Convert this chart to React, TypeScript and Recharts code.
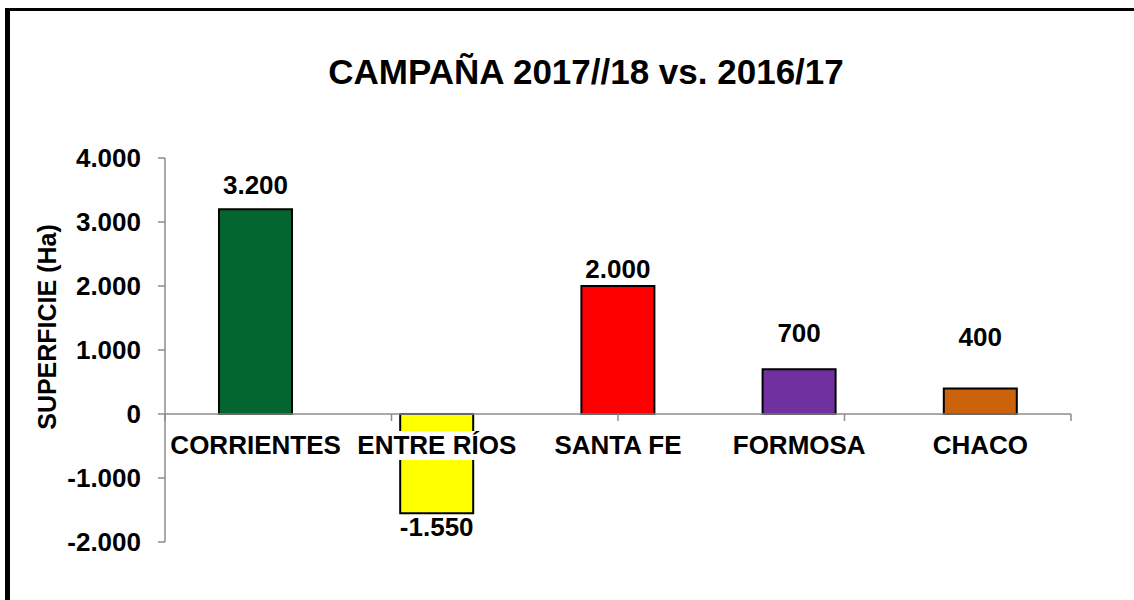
import React from 'react';
import {
  BarChart,
  Bar,
  XAxis,
  YAxis,
  Cell,
  LabelList,
  ReferenceLine,
} from 'recharts';

const provinces = ['CORRIENTES', 'ENTRE RÍOS', 'SANTA FE', 'FORMOSA', 'CHACO'];
const superficie = [3200, -1550, 2000, 700, 400];
const yTicks = [-2000, -1000, 0, 1000, 2000, 3000, 4000];
const edgeTicks = [0, 1, 2, 3, 4, 5];

const barColors = ['#03662F', '#FFFF00', '#FF0000', '#7030A0', '#CC620C'];
// distance from bar end to label centre, per bar (labels were hand-placed in the original)
const labelGaps = [24, 14, 17, 36, 51];

const data = provinces.map((name, i) => ({ name, value: superficie[i] }));

const W = 1134;
const H = 600;
const MARGIN = { top: 158, right: 63, bottom: 56, left: 0 };
const Y_MIN = -2000;
const Y_MAX = 4000;
const PLOT_H = H - MARGIN.top - MARGIN.bottom - 2;
const ZERO_Y = MARGIN.top + (PLOT_H * Y_MAX) / (Y_MAX - Y_MIN);

const FONT = '"Liberation Sans", Arial, sans-serif';
const AXIS_GRAY = '#8C8C8C';

const fmt = (v: number) => {
  const s = Math.abs(v).toString().replace(/\B(?=(\d{3})+(?!\d))/g, '.');
  return v < 0 ? '-' + s : s;
};

function CategoryTick(props: any) {
  const { x, payload } = props;
  return (
    <g>
      <rect x={x - 78} y={ZERO_Y + 17} width={156} height={29} fill="#fff" />
      <text
        x={x}
        y={ZERO_Y + 40}
        textAnchor="middle"
        fontFamily={FONT}
        fontWeight="bold"
        fontSize={26}
        fill="#000"
      >
        {payload.value}
      </text>
    </g>
  );
}

function EdgeTick(props: any) {
  const { x } = props;
  return <line x1={x} x2={x} y1={ZERO_Y} y2={ZERO_Y + 7} stroke={AXIS_GRAY} strokeWidth={1.5} />;
}

function ValueLabel(props: any) {
  const { x, y, width, height, value, index } = props;
  const gap = labelGaps[index] ?? 15;
  const top = Math.min(y, y + height);
  const bottom = Math.max(y, y + height);
  const cy = value < 0 ? bottom + gap : top - gap;
  return (
    <text
      x={x + width / 2}
      y={cy}
      textAnchor="middle"
      dominantBaseline="central"
      fontFamily={FONT}
      fontWeight="bold"
      fontSize={26}
      fill="#000"
    >
      {fmt(value)}
    </text>
  );
}

export default function App() {
  return (
    <div
      style={{
        position: 'absolute',
        left: 0,
        top: 0,
        width: W,
        height: H,
        background: '#fff',
        overflow: 'hidden',
      }}
    >
      <div
        style={{
          position: 'absolute',
          left: 5,
          top: 8,
          width: W + 100,
          height: H + 100,
          borderLeft: '5px solid #000',
          borderTop: '3px solid #000',
        }}
      />
      <div
        style={{
          position: 'absolute',
          left: 0,
          top: 52,
          width: 1172,
          textAlign: 'center',
          fontFamily: FONT,
          fontWeight: 'bold',
          fontSize: 35,
          lineHeight: '40px',
          color: '#000',
        }}
      >
        CAMPAÑA 2017//18 vs. 2016/17
      </div>
      <div style={{ position: 'absolute', left: 0, top: 0 }}>
        <BarChart width={W} height={H} data={data} margin={MARGIN}>
          <YAxis
            domain={[Y_MIN, Y_MAX]}
            ticks={yTicks}
            interval={0}
            width={165}
            tickSize={7}
            tickMargin={17}
            tickFormatter={fmt}
            axisLine={{ stroke: AXIS_GRAY, strokeWidth: 1.5 }}
            tickLine={{ stroke: AXIS_GRAY, strokeWidth: 1.5 }}
            tick={{ fontFamily: FONT, fontWeight: 'bold', fontSize: 26, fill: '#000' }}
            label={{
              value: 'SUPERFICIE (Ha)',
              angle: -90,
              position: 'center',
              dx: -35,
              dy: -23,
              style: { fontFamily: FONT, fontWeight: 'bold', fontSize: 25, fill: '#000', textAnchor: 'middle' },
            }}
          />
          <Bar dataKey="value" barSize={73} stroke="#000" strokeWidth={2} isAnimationActive={false}>
            {data.map((d, i) => (
              <Cell key={d.name} fill={barColors[i]} />
            ))}
            <LabelList dataKey="value" content={<ValueLabel />} />
          </Bar>
          <XAxis
            dataKey="name"
            height={1}
            interval={0}
            axisLine={false}
            tickLine={false}
            tick={<CategoryTick />}
          />
          <XAxis
            xAxisId="edges"
            type="number"
            domain={[0, 5]}
            allowDataOverflow
            ticks={edgeTicks}
            interval={0}
            height={1}
            axisLine={false}
            tickLine={false}
            tick={<EdgeTick />}
          />
          <ReferenceLine y={0} stroke={AXIS_GRAY} strokeWidth={1.5} />
        </BarChart>
      </div>
    </div>
  );
}
